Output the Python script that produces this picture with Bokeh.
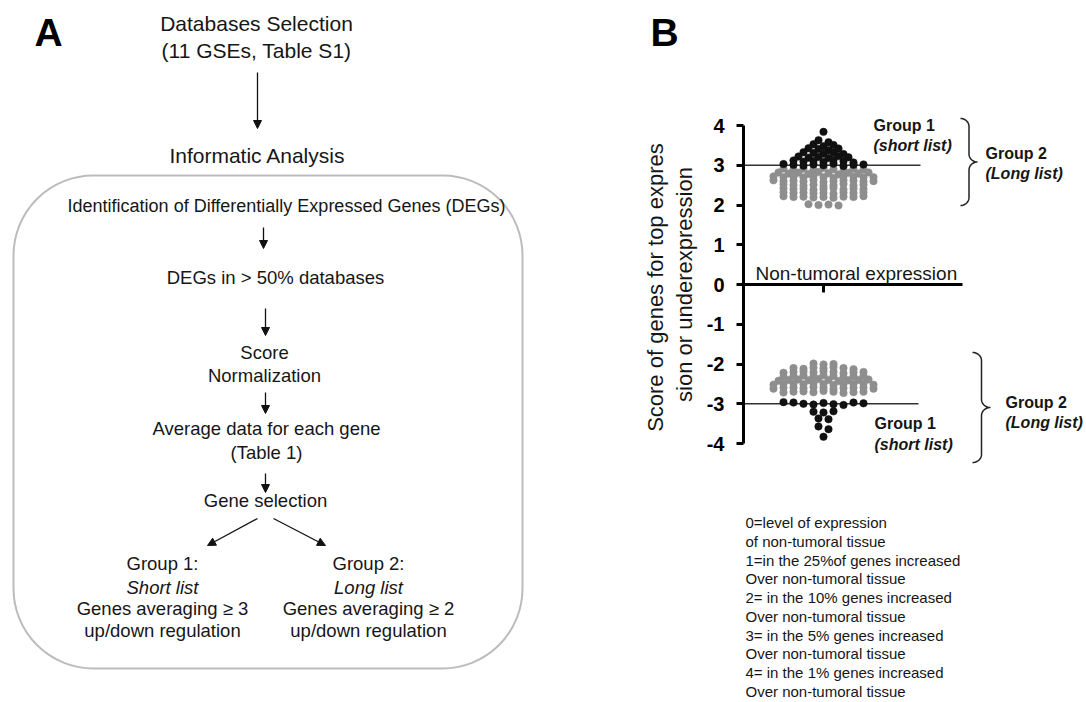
import numpy as np
from bokeh.plotting import figure
from bokeh.layouts import row
from bokeh.models import Range1d, Arrow, NormalHead, BoxAnnotation, FixedTicker, PrintfTickFormatter
from bokeh.embed import file_html
from bokeh.resources import INLINE
from bokeh.core.properties import value

FONT = "Liberation Sans"

# ---------------- Panel B data (scores per gene) ----------------
up_short = [3.84,
            3.63, 3.58,
            3.53, 3.48, 3.51,
            3.43, 3.41, 3.38, 3.42,
            3.33, 3.31, 3.29, 3.32, 3.28,
            3.22, 3.19, 3.21, 3.18, 3.23, 3.20,
            3.12, 3.09, 3.11, 3.08, 3.13, 3.10, 3.07,
            3.03, 3.01, 2.99, 3.02, 3.00, 3.04, 2.98, 3.01, 3.02]
up_long = [2.92, 2.89, 2.91, 2.88, 2.93, 2.90, 2.87, 2.91, 2.89,
           2.82, 2.79, 2.81, 2.78, 2.83, 2.80, 2.77, 2.81, 2.79, 2.82,
           2.72, 2.70, 2.71, 2.69, 2.73, 2.70, 2.68, 2.72, 2.71, 2.69, 2.70,
           2.62, 2.60, 2.61, 2.59, 2.63, 2.58, 2.60, 2.62, 2.61, 2.59, 2.60,
           2.52, 2.50, 2.49, 2.51, 2.48, 2.50, 2.53, 2.49, 2.51,
           2.42, 2.40, 2.41, 2.38, 2.40, 2.43, 2.39, 2.41, 2.40,
           2.32, 2.30, 2.31, 2.29, 2.30, 2.28, 2.31, 2.30, 2.32,
           2.22, 2.20, 2.21, 2.19, 2.20, 2.18, 2.21, 2.20, 2.22,
           2.02, 2.00, 2.01, 1.99]
down_long = [-1.99, -2.01, -2.00,
             -2.10, -2.12, -2.09, -2.11, -2.08, -2.10, -2.13,
             -2.22, -2.20, -2.19, -2.21, -2.18, -2.20, -2.23, -2.21, -2.20,
             -2.32, -2.30, -2.29, -2.31, -2.28, -2.30, -2.33, -2.31, -2.30,
             -2.42, -2.40, -2.39, -2.41, -2.38, -2.40, -2.43, -2.41, -2.40, -2.39,
             -2.52, -2.50, -2.49, -2.51, -2.48, -2.50, -2.53, -2.51, -2.50, -2.49, -2.52,
             -2.62, -2.60, -2.59, -2.61, -2.58, -2.60, -2.63, -2.61, -2.60, -2.59, -2.62,
             -2.72, -2.70, -2.69, -2.71, -2.68, -2.70, -2.73, -2.71, -2.70]
down_short = [-2.96, -2.97, -3.00, -3.02, -2.98, -3.01, -3.03, -2.97, -2.99,
              -3.20, -3.22, -3.19,
              -3.37, -3.39,
              -3.57, -3.64,
              -3.83]
score_ticks = [-4, -3, -2, -1, 0, 1, 2, 3, 4]
short_cutoff = 3
column_center = 1.0

axis_title = ["Score of  genes for top expres", "sion or underexpression"]
scale_notes = ["0=level of expression",
               "of non-tumoral tissue",
               "1=in the 25%of genes increased",
               "Over non-tumoral tissue",
               "2= in the 10% genes increased",
               "Over non-tumoral tissue",
               "3= in the 5% genes increased",
               "Over non-tumoral tissue",
               "4= in the 1% genes increased",
               "Over non-tumoral tissue"]


def swarm(vals, center, step=0.1):
    """Prism-like column scatter: values binned by 0.1, spread symmetrically."""
    bins = {}
    for i, v in enumerate(vals):
        bins.setdefault(int(np.floor(v * 10 + 0.5)), []).append(i)
    xs = [0.0] * len(vals)
    for idx in bins.values():
        n = len(idx)
        for j, i in enumerate(idx):
            xs[i] = center + (j - (n - 1) / 2) * step
    return xs


# ---------------- Panel A : flow chart (+ left margin of panel B) ----------------
pa = figure(width=700, height=702, x_range=Range1d(0, 700), y_range=Range1d(702, 0),
            x_axis_location=None, y_axis_location=None, min_border=0,
            toolbar_location=None, output_backend="svg", outline_line_color=None)
pa.grid.grid_line_color = None

INK = "#161616"
flow = [
    ("Databases Selection", 256, 23, "normal", "21px"),
    ("(11 GSEs, Table S1)", 256, 50, "normal", "21px"),
    ("Informatic Analysis", 257, 155, "normal", "21px"),
    ("Identification of Differentially Expressed Genes (DEGs)", 286, 205, "normal", "18px"),
    ("DEGs in > 50% databases", 275, 277, "normal", "18.5px"),
    ("Score", 264, 352, "normal", "18.5px"),
    ("Normalization", 264, 375, "normal", "18.5px"),
    ("Average data for each gene", 266, 428, "normal", "18.5px"),
    ("(Table 1)", 266, 452, "normal", "18.5px"),
    ("Gene selection", 265, 500, "normal", "18.5px"),
    ("Group 1:", 162, 563, "normal", "18.5px"),
    ("Short list", 162, 587, "italic", "18.5px"),
    ("Genes averaging \u2265 3", 162, 608, "normal", "18.5px"),
    ("up/down regulation", 162, 630, "normal", "18.5px"),
    ("Group 2:", 368, 563, "normal", "18.5px"),
    ("Long list", 368, 587, "italic", "18.5px"),
    ("Genes averaging \u2265 2", 368, 608, "normal", "18.5px"),
    ("up/down regulation", 368, 630, "normal", "18.5px"),
]
for t, x, y, st, sz in flow:
    pa.text(x=[x], y=[y], text=[t], text_font=value(FONT), text_font_size=sz,
            text_font_style=st, text_align="center", text_baseline="middle",
            text_color=INK)

for t, x in [("A", 48), ("B", 664)]:
    pa.text(x=[x], y=[32], text=[t], text_font=value(FONT), text_font_size="39px",
            text_font_style="bold", text_align="center", text_baseline="middle",
            text_color="#000000")

# y-axis title of panel B (two lines, rotated)
for t, x in zip(axis_title, [655, 684]):
    pa.text(x=[x], y=[284], text=[t], angle=np.pi / 2, text_font=value(FONT),
            text_font_size="22px", text_align="center", text_baseline="middle",
            text_color=INK)

arrows = [((257, 72), (257, 128)), ((263, 227), (263, 248)), ((265, 308), (265, 335)),
          ((265, 392), (265, 413)), ((265, 473), (265, 492)),
          ((257, 518), (207, 545)), ((273, 518), (325, 545))]
for (x0, y0), (x1, y1) in arrows:
    pa.add_layout(Arrow(end=NormalHead(size=8, fill_color="#111111", line_color="#111111"),
                        x_start=x0, y_start=y0, x_end=x1, y_end=y1,
                        line_width=1.3, line_color="#111111"))

pa.add_layout(BoxAnnotation(left=13, right=522, top=175, bottom=668, border_radius=80,
                            fill_alpha=0, fill_color=None, line_color="#222222",
                            line_width=2))

# ---------------- Panel B : score plot ----------------
PX_X, PX_Y = 100.0, 39.75


def bx(px):
    return column_center + (px - 823) / PX_X


def by(py):
    return (284 - py) / PX_Y


pb = figure(width=386, height=702, x_range=Range1d(bx(743), bx(1086)),
            y_range=Range1d(by(702), by(0)),
            min_border_left=43, min_border_right=0, min_border_top=0, min_border_bottom=0,
            x_axis_location=None, toolbar_location=None, output_backend="svg",
            outline_line_color=None)
pb.grid.grid_line_color = None

ax = pb.yaxis[0]
ax.ticker = FixedTicker(ticks=score_ticks)
ax.formatter = PrintfTickFormatter(format="%d")
ax.bounds = (min(score_ticks), max(score_ticks))
ax.axis_line_width = 3
ax.axis_line_color = "#000000"
ax.major_tick_line_width = 3
ax.major_tick_line_color = "#000000"
ax.major_tick_out = 7
ax.major_tick_in = 0
ax.minor_tick_line_color = None
ax.major_label_standoff = 12
ax.major_label_text_font = FONT
ax.major_label_text_font_style = "bold"
ax.major_label_text_font_size = "20px"
ax.major_label_text_color = "#000000"

# zero line with the column tick
pb.segment(x0=[bx(743)], y0=[0], x1=[bx(962)], y1=[0], line_width=3, line_color="#000000")
pb.segment(x0=[column_center], y0=[0], x1=[column_center], y1=[-0.2], line_width=3,
           line_color="#000000")
# cut-off lines at +/-3
pb.segment(x0=[bx(743), bx(743)], y0=[short_cutoff, -short_cutoff],
           x1=[bx(920), bx(918)], y1=[short_cutoff, -short_cutoff],
           line_width=1.5, line_color="#333333")

GRAY, BLACK = "#8e8e8e", "#111111"
pb.scatter(x=swarm(up_long, column_center), y=up_long, size=7.5, fill_color=GRAY,
           line_color=GRAY, line_width=0.5)
pb.scatter(x=swarm(down_long, column_center), y=down_long, size=7.5, fill_color=GRAY,
           line_color=GRAY, line_width=0.5)
pb.scatter(x=swarm(up_short, column_center), y=up_short, size=7.5, fill_color=BLACK,
           line_color=BLACK, line_width=0.5)
pb.scatter(x=swarm(down_short, column_center), y=down_short, size=7.5, fill_color=BLACK,
           line_color=BLACK, line_width=0.5)

pb.text(x=[bx(755)], y=[by(273)], text=["Non-tumoral expression"], text_font=value(FONT),
        text_font_size="19px", text_align="left", text_baseline="middle", text_color=INK)

group_labels = [("Group 1", 873, 125, "bold"), ("(short list)", 873, 145, "bold italic"),
                ("Group 2", 985, 153, "bold"), ("(Long list)", 985, 173, "bold italic"),
                ("Group 1", 874, 423, "bold"), ("(short list)", 874, 444, "bold italic"),
                ("Group 2", 1005, 402, "bold"), ("(Long list)", 1005, 422, "bold italic")]
for t, x, y, st in group_labels:
    pb.text(x=[bx(x)], y=[by(y)], text=[t], text_font=value(FONT), text_font_size="16px",
            text_font_style=st, text_align="left", text_baseline="middle",
            text_color=INK)


def brace(x0, yt, yb, w, r=8, n=12):
    ym = (yt + yb) / 2.0
    xs, ys = [], []
    for th in np.linspace(np.pi / 2, 0, n):
        xs.append(x0 + (w / 2) * np.cos(th)); ys.append(yt + r - r * np.sin(th))
    for th in np.linspace(np.pi, np.pi / 2, n):
        xs.append(x0 + w + (w / 2) * np.cos(th)); ys.append(ym - r + r * np.sin(th))
    for th in np.linspace(np.pi / 2, np.pi, n):
        xs.append(x0 + w + (w / 2) * np.cos(th)); ys.append(ym + r - r * np.sin(th))
    for th in np.linspace(0, np.pi / 2, n):
        xs.append(x0 + (w / 2) * np.cos(th)); ys.append(yb - r + r * np.sin(th))
    return [bx(v) for v in xs], [by(v) for v in ys]


for args in [(960, 118, 205, 17), (972, 352, 462, 18)]:
    bxs, bys = brace(*args)
    pb.line(x=bxs, y=bys, line_width=1.5, line_color="#222222")

pb.text(x=[bx(745)] * len(scale_notes),
        y=[by(522 + i * 18.75) for i in range(len(scale_notes))],
        text=scale_notes, text_font=value(FONT), text_font_size="15px",
        text_align="left", text_baseline="middle", text_color=INK)

layout = row(pa, pb)
open("out.html", "w").write(file_html(layout, INLINE))
